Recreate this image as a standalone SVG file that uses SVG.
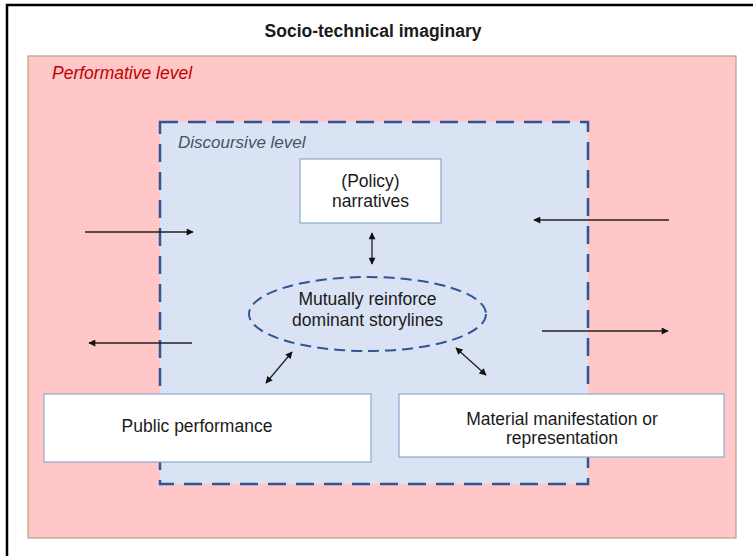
<svg xmlns="http://www.w3.org/2000/svg" width="753" height="556" viewBox="0 0 753 556">
<defs>
<marker id="ah" viewBox="0 0 10 10" refX="9" refY="5" markerWidth="8" markerHeight="7" markerUnits="userSpaceOnUse" orient="auto-start-reverse">
<path d="M0,0 L10,5 L0,10 z" fill="#111"/>
</marker>
<style>
.t{font-family:"Liberation Sans",Arial,sans-serif;font-size:17.5px;fill:#1a1a1a;text-anchor:middle}
.box{fill:#fff;stroke:#8EA9D0;stroke-width:1.2}
.con{stroke:#222;stroke-width:1.3;fill:none;marker-end:url(#ah)}
.dbl{marker-start:url(#ah)}
</style>
</defs>
<rect width="753" height="556" fill="#fff"/>
<path d="M7,556 V5 H753" fill="none" stroke="#000" stroke-width="2.5"/>
<text x="373" y="37" class="t" style="font-weight:bold">Socio-technical imaginary</text>

<g id="performative-level">
<rect x="28" y="56" width="708" height="482" fill="#FFC7C7" stroke="#B8A080" stroke-width="1.2"/>
<text x="52" y="79" style="font-family:'Liberation Sans',Arial,sans-serif;font-size:17.5px;font-style:italic;fill:#C00000">Performative level</text>
</g>

<g id="discoursive-level">
<rect x="160" y="122" width="428" height="362" fill="#DAE3F3" stroke="#2F5597" stroke-width="2.5" stroke-dasharray="18 10"/>
<text x="178" y="148" style="font-family:'Liberation Sans',Arial,sans-serif;font-size:17px;font-style:italic;fill:#44546A">Discoursive level</text>
</g>

<g id="policy-narratives">
<rect x="300" y="159" width="141" height="64" class="box"/>
<text x="370.5" y="187" class="t">(Policy)</text>
<text x="370.5" y="207" class="t">narratives</text>
</g>

<g id="storylines">
<ellipse cx="367.5" cy="314" rx="118.5" ry="37" fill="none" stroke="#2F5597" stroke-width="2" stroke-dasharray="11 6"/>
<text x="367.5" y="305" class="t">Mutually reinforce</text>
<text x="367.5" y="326" class="t">dominant storylines</text>
</g>

<g id="public-performance">
<rect x="44" y="394" width="327" height="68" class="box"/>
<text x="197" y="432" class="t">Public performance</text>
</g>

<g id="material">
<rect x="399" y="394" width="325" height="63" class="box"/>
<text x="562" y="425" class="t">Material manifestation or</text>
<text x="562" y="444" class="t">representation</text>
</g>

<g id="connectors">
<line x1="372" y1="233" x2="372" y2="264" class="con dbl"/>
<line x1="292" y1="352" x2="266" y2="383" class="con dbl"/>
<line x1="456" y1="348" x2="486" y2="375" class="con dbl"/>
<line x1="85" y1="232" x2="193" y2="232" class="con"/>
<line x1="192" y1="343" x2="89" y2="343" class="con"/>
<line x1="669" y1="220" x2="534" y2="220" class="con"/>
<line x1="542" y1="331" x2="668" y2="331" class="con"/>
</g>
</svg>
